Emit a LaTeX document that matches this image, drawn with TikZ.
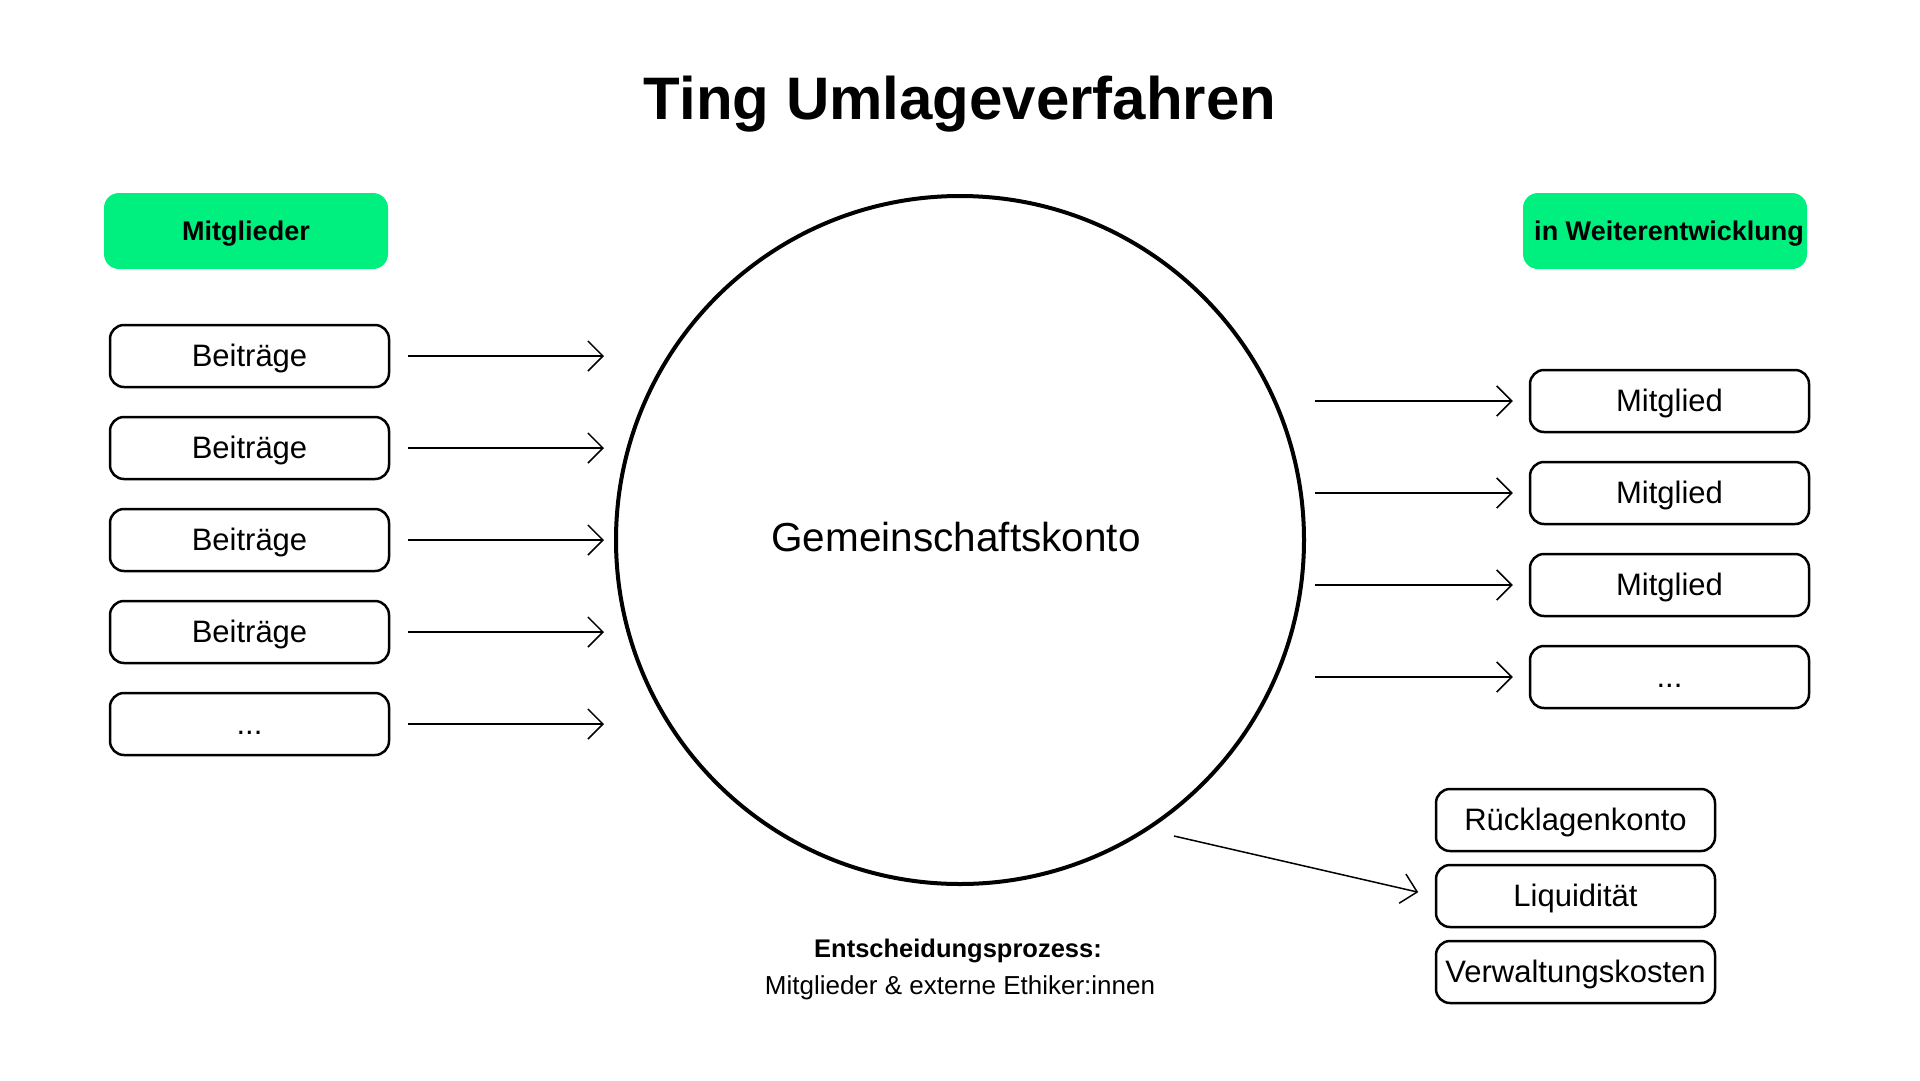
\documentclass[tikz,border=0pt]{standalone}
\usepackage{fontspec}
\setmainfont{Liberation Sans}
\usetikzlibrary{arrows.meta}
\definecolor{tinggreen}{RGB}{0,240,128}
\tikzset{
  headbox/.style={
    fill=tinggreen, rounded corners=15pt,
    minimum width=284pt, minimum height=76pt, inner sep=0pt,
    font=\fontsize{27}{32}\selectfont\bfseries,
    text height=19.5pt, text depth=0pt
  },
  itembox/.style={
    draw, line width=2.5pt, rounded corners=14pt,
    minimum width=279pt, minimum height=62pt, inner sep=0pt,
    font=\fontsize{31}{37}\selectfont,
    text height=20pt, text depth=0pt
  },
  flow/.style={
    line width=1.5pt,
    -{Straight Barb[length=15pt,width=30pt]}
  }
}

\begin{document}
\begin{tikzpicture}[x=1pt,y=-1pt]
  \useasboundingbox (0,0) rectangle (1920,1080);

  \node[anchor=base, font=\fontsize{60}{72}\selectfont\bfseries] (titel) at (960,119) {Ting Umlageverfahren};

  \node[draw, circle, line width=4pt, minimum size=688pt, inner sep=0pt, outer sep=0pt]
        (konto) at (960,540) {};
  \node[font=\fontsize{40.5}{48}\selectfont, text height=27pt, text depth=0pt]
        (kontoname) at (956,538) {Gemeinschaftskonto};

  % Zufluss: Beitraege der Mitglieder
  \node[headbox] (mitglieder) at (246,231) {Mitglieder};
  \foreach \i in {1,2,3,4}
    \node[itembox] (beitrag\i) at (249.5,264+92*\i) {Beiträge};
  \node[itembox] (beitrag5) at (249.5,724) {...};
  \foreach \i in {1,2,3,4,5}
    \draw[flow, shorten <=18pt, shorten >=12pt] (beitrag\i.east) -- (beitrag\i.east -| konto.west);

  % Abfluss an Mitglieder
  \node[headbox] (weiter) at (1665,231) {};
  \node[font=\fontsize{27}{32}\selectfont\bfseries, text height=19.5pt, text depth=0pt, inner sep=0pt]
        (weitertext) at (1669,231) {in Weiterentwicklung};
  \foreach \i in {1,2,3}
    \node[itembox] (mitglied\i) at (1669.5,309+92*\i) {Mitglied};
  \node[itembox] (mitglied4) at (1669.5,677) {...};
  \foreach \i in {1,2,3,4}
    \draw[flow, shorten <=11pt, shorten >=16pt] (konto.east |- mitglied\i.west) -- (mitglied\i.west);

  % Ruecklagen
  \node[itembox] (ruecklage) at (1575.5,820) {Rücklagenkonto};
  \node[itembox] (liquiditaet) at (1575.5,896) {Liquidität};
  \node[itembox] (verwaltung) at (1575.5,972) {Verwaltungskosten};
  \coordinate (abfluss) at (1174,836);
  \draw[flow, shorten >=17pt] (abfluss) -- (liquiditaet.west);

  \node[anchor=base, font=\fontsize{25.5}{30}\selectfont\bfseries] (entscheidung) at (958,957) {Entscheidungsprozess:};
  \node[anchor=base, font=\fontsize{26}{31}\selectfont] (beteiligte) at (960,994) {Mitglieder \& externe Ethiker:innen};
\end{tikzpicture}
\end{document}
